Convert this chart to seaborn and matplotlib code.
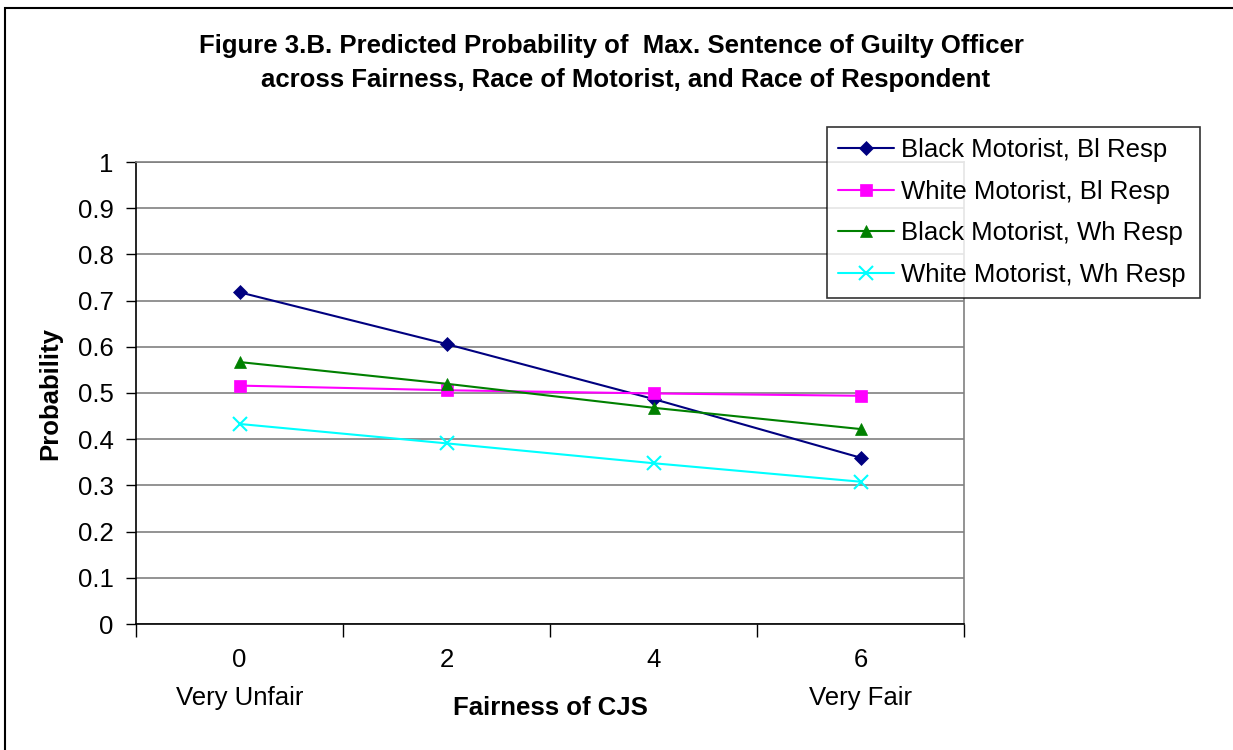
import matplotlib
matplotlib.use("Agg")
import matplotlib.pyplot as plt
import matplotlib.transforms as mtransforms
from matplotlib.patches import Rectangle
from matplotlib.ticker import FixedLocator
import pandas as pd
import seaborn as sns

fairness = ["0", "2", "4", "6"]
black_bl = [0.718, 0.606, 0.487, 0.360]
white_bl = [0.516, 0.506, 0.499, 0.494]
black_wh = [0.567, 0.520, 0.468, 0.422]
white_wh = [0.433, 0.391, 0.348, 0.308]
series_names = ["Black Motorist, Bl Resp", "White Motorist, Bl Resp",
                "Black Motorist, Wh Resp", "White Motorist, Wh Resp"]
y_ticks = [0, 0.1, 0.2, 0.3, 0.4, 0.5, 0.6, 0.7, 0.8, 0.9, 1]
y_tick_labels = ["0", "0.1", "0.2", "0.3", "0.4", "0.5", "0.6", "0.7", "0.8", "0.9", "1"]

sns.set_theme(style="white")
plt.rcParams["font.family"] = ["Liberation Sans", "DejaVu Sans"]
plt.rcParams["text.color"] = "black"
plt.rcParams["xtick.color"] = "black"
plt.rcParams["ytick.color"] = "black"
plt.rcParams["axes.labelcolor"] = "black"

pos = list(range(len(fairness)))
rows = []
for name, vals in zip(series_names, [black_bl, white_bl, black_wh, white_wh]):
    for p, v in zip(pos, vals):
        rows.append({"pos": p, "prob": v, "series": name})
df = pd.DataFrame(rows)

colors = ["#000080", "#FF00FF", "#008000", "#00FFFF"]
markers = ["D", "s", "^", "x"]
msizes = [7, 9, 9, 10]

FS = 18.5

fig = plt.figure(figsize=(12.33, 7.5), dpi=100)
ax = fig.add_axes([136 / 1233, 1 - 624 / 750, 828 / 1233, 462 / 750])

for name, c, m, ms in zip(series_names, colors, markers, msizes):
    sub = df[df["series"] == name]
    sns.lineplot(data=sub, x="pos", y="prob", ax=ax, color=c, marker=m,
                 markersize=ms, markeredgecolor=c,
                 markeredgewidth=1.5 if m == "x" else 0.5,
                 linewidth=1.5, label=name, zorder=3)

ax.set_xlim(-0.5, 3.5)
ax.set_ylim(0, 1)
ax.yaxis.set_major_locator(FixedLocator(y_ticks))
ax.set_yticklabels(y_tick_labels)
ax.grid(axis="y", color="#808080", linewidth=1.2)
ax.grid(axis="x", visible=False)

ax.set_xticks(pos)
ax.set_xticklabels(fairness)
ax.xaxis.set_minor_locator(FixedLocator([-0.5, 0.5, 1.5, 2.5, 3.5]))
ax.tick_params(axis="x", which="major", length=0, pad=17, labelsize=FS)
ax.tick_params(axis="x", which="minor", bottom=True, length=9, width=1, color="black")
ax.tick_params(axis="y", which="major", left=True, length=7, width=1, color="black",
               labelsize=FS, pad=9)

for side in ["top", "right"]:
    ax.spines[side].set_color("#808080")
    ax.spines[side].set_linewidth(1.2)
for side in ["left", "bottom"]:
    ax.spines[side].set_color("black")
    ax.spines[side].set_linewidth(1.2)

trans = mtransforms.blended_transform_factory(ax.transData, fig.transFigure)
ax.text(0, 1 - 698 / 750, "Very Unfair", transform=trans, ha="center", va="center", fontsize=FS)
ax.text(3, 1 - 698 / 750, "Very Fair", transform=trans, ha="center", va="center", fontsize=FS)

ax.set_xlabel("")
ax.set_ylabel("")
fig.text(550 / 1233, 1 - 708 / 750, "Fairness of CJS", ha="center", va="center",
         fontsize=FS, fontweight="bold")
fig.text(50 / 1233, 1 - 393 / 750, "Probability", ha="center", va="center",
         rotation=90, fontsize=FS, fontweight="bold")

fig.text(611 / 1233, 1 - 46 / 750,
         "Figure 3.B. Predicted Probability of  Max. Sentence of Guilty Officer",
         ha="center", va="center", fontsize=18.5, fontweight="bold")
fig.text(626 / 1233, 1 - 80 / 750,
         "across Fairness, Race of Motorist, and Race of Respondent",
         ha="center", va="center", fontsize=18.5, fontweight="bold")

leg = ax.legend(loc="upper left",
                bbox_to_anchor=(827 / 1233, 1 - 296 / 750, 373 / 1233, 169 / 750),
                bbox_transform=fig.transFigure, mode="expand", frameon=True, fancybox=False,
                fontsize=FS, handlelength=2.2, handletextpad=0.25, labelspacing=0.69,
                borderaxespad=0, borderpad=0.42)
leg.get_frame().set_edgecolor("black")
leg.get_frame().set_linewidth(1.2)
leg.set_zorder(10)

# outer frame around the whole chart, running past the right and bottom edges
fig.patches.append(Rectangle((5 / 1233, -0.05), 1.2, 1.05 - 8 / 750, transform=fig.transFigure,
                             fill=False, edgecolor="black", linewidth=1.5))

fig.savefig("out.png", dpi=100)
